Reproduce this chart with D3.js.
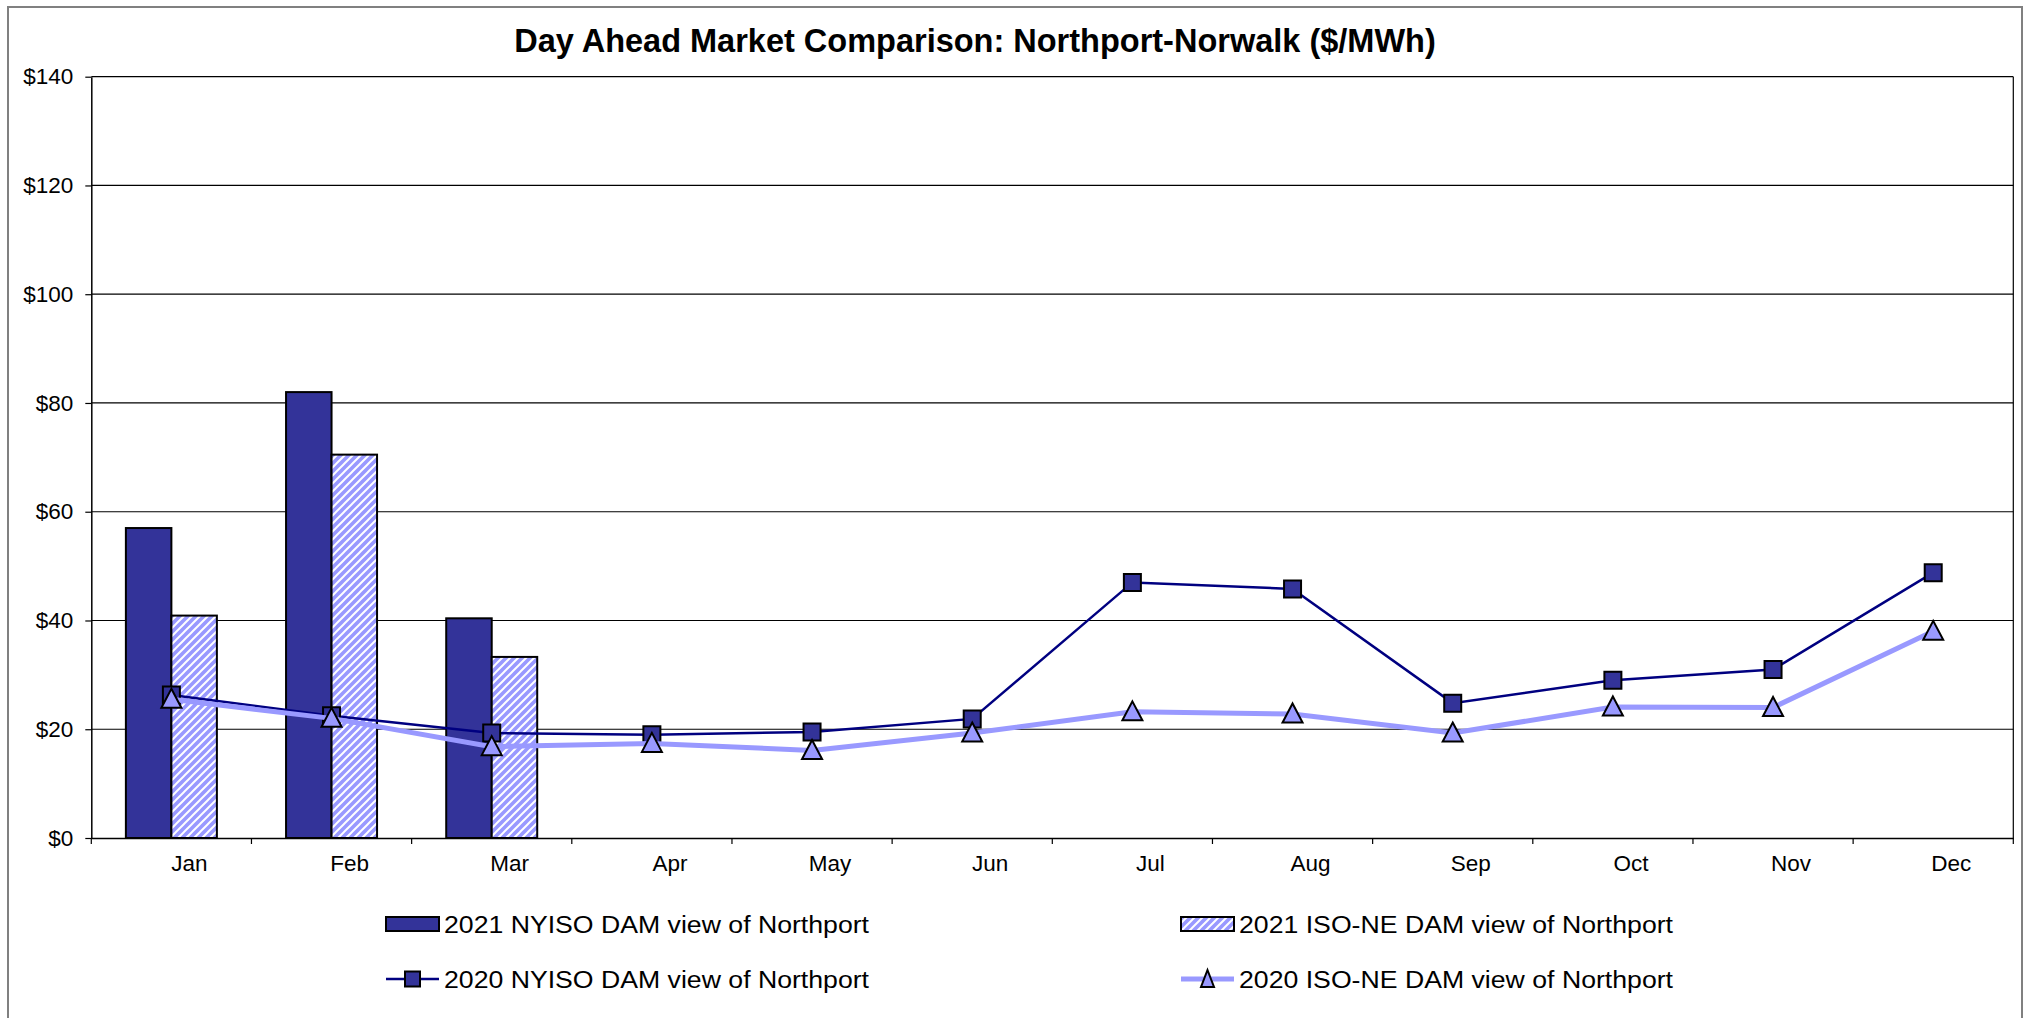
<!DOCTYPE html>
<html>
<head>
<meta charset="utf-8">
<script src="https://cdn.jsdelivr.net/npm/d3@7"></script>
<style>
  body { margin: 0; background: #fff; }
  svg { display: block; font-family: "Liberation Sans", Arial, sans-serif; }
</style>
</head>
<body>
<svg id="chart" width="2034" height="1018"></svg>
<script>
const svgWidth = 2034;
const svgHeight = 1018;

const months = ['Jan', 'Feb', 'Mar', 'Apr', 'May', 'Jun', 'Jul', 'Aug', 'Sep', 'Oct', 'Nov', 'Dec'];
const yTicks = [0, 20, 40, 60, 80, 100, 120, 140];

// 2021 bars (only Jan-Mar reported)
const nyiso2021 = [57.0, 82.0, 40.4];
const isone2021 = [40.9, 70.5, 33.3];

// 2020 lines
const nyiso2020 = [26.3, 22.5, 19.3, 19.0, 19.5, 21.9, 47.0, 45.8, 24.8, 29.0, 31.0, 48.8];
const isone2020 = [25.5, 22.0, 16.8, 17.4, 16.1, 19.3, 23.2, 22.8, 19.3, 24.1, 24.0, 38.0];

const seriesNames = [
  '2021 NYISO DAM view of Northport',
  '2021 ISO-NE DAM view of Northport',
  '2020 NYISO DAM view of Northport',
  '2020 ISO-NE DAM view of Northport'
];

const plot = { left: 91.3, right: 2013.3, top: 76.7, bottom: 838 };
const darkBlue = '#333399';
const navy = '#000080';
const lightBlue = '#9999ff';

const svg = d3.select('#chart');

// hatch for the ISO-NE bars
const defs = svg.append('defs');
const hatch = defs.append('pattern')
  .attr('id', 'hatch')
  .attr('patternUnits', 'userSpaceOnUse')
  .attr('width', 8)
  .attr('height', 8);
hatch.append('rect').attr('width', 8).attr('height', 8).attr('fill', lightBlue);
hatch.append('path')
  .attr('d', 'M0,8 L8,0 M-2,2 L2,-2 M6,10 L10,6')
  .attr('stroke', '#fff')
  .attr('stroke-width', 2);

// outer frame (bottom edge falls outside the picture)
svg.append('rect')
  .attr('x', 8).attr('y', 7)
  .attr('width', 2014).attr('height', 1030)
  .attr('fill', 'none')
  .attr('stroke', '#808080')
  .attr('stroke-width', 2);

svg.append('text')
  .attr('x', 975)
  .attr('y', 51.5)
  .attr('text-anchor', 'middle')
  .attr('font-size', 32.5)
  .attr('font-weight', 'bold')
  .text('Day Ahead Market Comparison: Northport-Norwalk ($/MWh)');

const x = d3.scaleBand()
  .domain(months)
  .range([plot.left, plot.right]);

const xSub = d3.scaleBand()
  .domain(['nyiso', 'isone'])
  .range([x.bandwidth() / 2 - 45.5, x.bandwidth() / 2 + 45.5]);

const y = d3.scaleLinear()
  .domain([0, 140])
  .range([plot.bottom, plot.top]);

// gridlines
svg.append('g')
  .selectAll('line')
  .data(yTicks.slice(1))
  .enter()
  .append('line')
  .attr('x1', plot.left)
  .attr('x2', plot.right)
  .attr('y1', d => y(d))
  .attr('y2', d => y(d))
  .attr('stroke', '#000')
  .attr('stroke-width', 1.2);

svg.append('line')
  .attr('x1', plot.right).attr('x2', plot.right)
  .attr('y1', plot.top).attr('y2', plot.bottom)
  .attr('stroke', '#000')
  .attr('stroke-width', 1.2);

// bars
const barGroups = svg.append('g');
barGroups.selectAll('rect.nyiso')
  .data(nyiso2021)
  .enter()
  .append('rect')
  .attr('class', 'nyiso')
  .attr('x', (d, i) => x(months[i]) + xSub('nyiso'))
  .attr('y', d => y(d))
  .attr('width', xSub.bandwidth())
  .attr('height', d => y(0) - y(d))
  .attr('fill', darkBlue)
  .attr('stroke', '#000')
  .attr('stroke-width', 2);

barGroups.selectAll('rect.isone')
  .data(isone2021)
  .enter()
  .append('rect')
  .attr('class', 'isone')
  .attr('x', (d, i) => x(months[i]) + xSub('isone'))
  .attr('y', d => y(d))
  .attr('width', xSub.bandwidth())
  .attr('height', d => y(0) - y(d))
  .attr('fill', 'url(#hatch)')
  .attr('stroke', '#000')
  .attr('stroke-width', 2);

// axes
const yAxis = d3.axisLeft(y)
  .tickValues(yTicks)
  .tickFormat(d => `$${d}`)
  .tickSize(6)
  .tickSizeOuter(0)
  .tickPadding(12);

const yAxisG = svg.append('g')
  .attr('transform', `translate(${plot.left}, 0)`)
  .call(yAxis);

const xAxis = d3.axisBottom(x)
  .tickSize(0)
  .tickSizeOuter(0)
  .tickPadding(17);

const xAxisG = svg.append('g')
  .attr('transform', `translate(0, ${plot.bottom})`)
  .call(xAxis);

xAxisG.selectAll('.tick text').attr('transform', 'translate(18, 0)');

// category boundary ticks
xAxisG.selectAll('line.boundary')
  .data(d3.range(months.length + 1))
  .enter()
  .append('line')
  .attr('class', 'boundary')
  .attr('x1', i => plot.left + i * x.step())
  .attr('x2', i => plot.left + i * x.step())
  .attr('y1', 0)
  .attr('y2', 6)
  .attr('stroke', '#000')
  .attr('stroke-width', 1.2);

[yAxisG, xAxisG].forEach(g => {
  g.selectAll('text')
    .attr('font-size', 22.5)
    .attr('fill', '#000')
    .attr('font-family', '"Liberation Sans", Arial, sans-serif');
  g.selectAll('.tick line').attr('stroke', '#000').attr('stroke-width', 1.2);
  g.select('.domain').attr('stroke', '#000').attr('stroke-width', 1.5);
});

const cx = i => x(months[i]) + x.bandwidth() / 2;

const line = d3.line()
  .x((d, i) => cx(i))
  .y(d => y(d));

const squarePath = 'M-8.5,-8.5 H8.5 V8.5 H-8.5 Z';
const trianglePath = 'M0,-10.5 L10,8.5 L-10,8.5 Z';

// 2020 NYISO line
svg.append('path')
  .datum(nyiso2020)
  .attr('d', line)
  .attr('fill', 'none')
  .attr('stroke', navy)
  .attr('stroke-width', 2.5);

svg.append('g')
  .selectAll('path')
  .data(nyiso2020)
  .enter()
  .append('path')
  .attr('d', squarePath)
  .attr('transform', (d, i) => `translate(${cx(i)}, ${y(d)})`)
  .attr('fill', darkBlue)
  .attr('stroke', '#000')
  .attr('stroke-width', 2);

// 2020 ISO-NE line
svg.append('path')
  .datum(isone2020)
  .attr('d', line)
  .attr('fill', 'none')
  .attr('stroke', lightBlue)
  .attr('stroke-width', 5);

svg.append('g')
  .selectAll('path')
  .data(isone2020)
  .enter()
  .append('path')
  .attr('d', trianglePath)
  .attr('transform', (d, i) => `translate(${cx(i)}, ${y(d)})`)
  .attr('fill', lightBlue)
  .attr('stroke', '#000')
  .attr('stroke-width', 2);

// legend
const legendItems = [
  { name: seriesNames[0], kind: 'bar', fill: darkBlue, sx: 386, ty: 924, tx: 444, tw: 425 },
  { name: seriesNames[1], kind: 'bar', fill: 'url(#hatch)', sx: 1181, ty: 924, tx: 1239, tw: 434 },
  { name: seriesNames[2], kind: 'line', color: navy, width: 2.5, marker: 'M-7.5,-7.5 H7.5 V7.5 H-7.5 Z', mfill: darkBlue, sx: 386, ty: 979, tx: 444, tw: 425 },
  { name: seriesNames[3], kind: 'line', color: lightBlue, width: 5, marker: 'M0,-9 L6.5,8 L-6.5,8 Z', mfill: lightBlue, sx: 1181, ty: 979, tx: 1239, tw: 434 }
];

const legend = svg.append('g');
legendItems.forEach(item => {
  const g = legend.append('g');
  if (item.kind === 'bar') {
    g.append('rect')
      .attr('x', item.sx)
      .attr('y', item.ty - 7)
      .attr('width', 53)
      .attr('height', 14)
      .attr('fill', item.fill)
      .attr('stroke', '#000')
      .attr('stroke-width', 2);
  } else {
    g.append('line')
      .attr('x1', item.sx)
      .attr('x2', item.sx + 53)
      .attr('y1', item.ty)
      .attr('y2', item.ty)
      .attr('stroke', item.color)
      .attr('stroke-width', item.width);
    g.append('path')
      .attr('d', item.marker)
      .attr('transform', `translate(${item.sx + 26.5}, ${item.ty})`)
      .attr('fill', item.mfill)
      .attr('stroke', '#000')
      .attr('stroke-width', 2);
  }
  g.append('text')
    .attr('x', item.tx)
    .attr('y', item.ty + 8.5)
    .attr('font-size', 23.5)
    .attr('textLength', item.tw)
    .attr('lengthAdjust', 'spacingAndGlyphs')
    .text(item.name);
});
</script>
</body>
</html>
